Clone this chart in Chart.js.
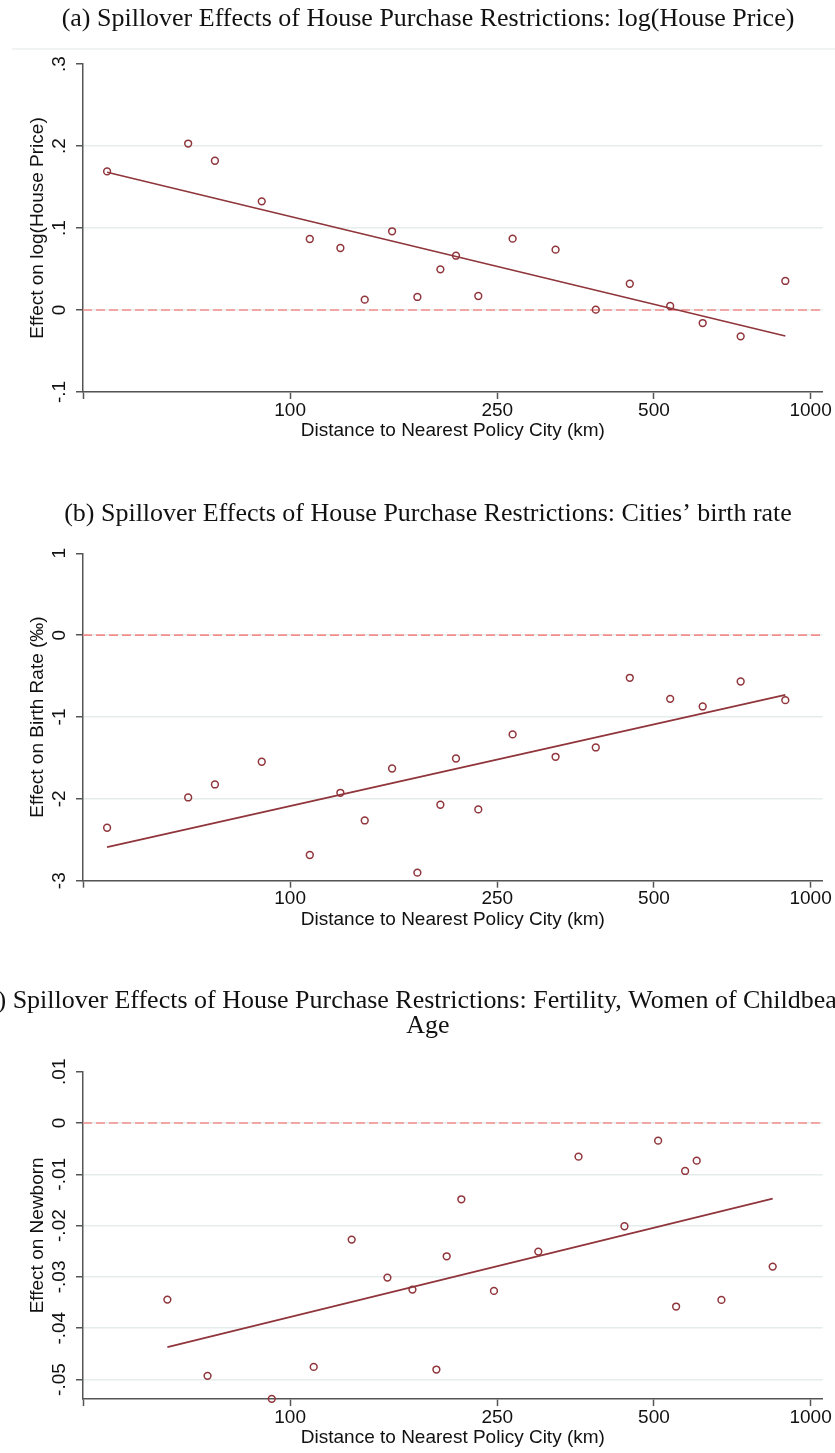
<!DOCTYPE html>
<html>
<head>
<meta charset="utf-8">
<script src="https://cdn.jsdelivr.net/npm/chart.js@4.4.1/dist/chart.umd.min.js"></script>
<style>
    body { margin: 0; background: #fff; width: 835px; height: 1453px; overflow: hidden; position: relative; }
    .panel { position: absolute; left: 0; width: 835px; }
</style>
</head>
<body>
<div class="panel" style="top:0;height:450px"><canvas id="chartA"></canvas></div>
<div class="panel" style="top:480px;height:460px"><canvas id="chartB"></canvas></div>
<div class="panel" style="top:960px;height:493px"><canvas id="chartC"></canvas></div>
<script>
// x axis (log km), shared range
const distRange = [40, 1055];
const distTicks = [40, 100, 250, 500, 1000];
const distTickLabels = ['', '100', '250', '500', '1000'];

// panels (a) and (b): same distance bins
const distAB = [44.5, 63.7, 71.7, 88.2, 109.1, 124.9, 139.1, 157.0, 175.6, 194.4,
                208.3, 229.9, 267.6, 323.6, 386.6, 449.4, 537.3, 620.4, 733.9, 894.2];

const priceEffect = [0.169, 0.203, 0.182, 0.1325, 0.0866, 0.0756, 0.0126, 0.096, 0.0159, 0.0496,
                     0.0662, 0.0171, 0.087, 0.0736, 0.0004, 0.032, 0.0049, -0.0159, -0.0321, 0.0354];
const priceFitX = [44.5, 894.2];
const priceFitY = [0.168, -0.0317];
const priceTicks = [-0.1, 0, 0.1, 0.2, 0.3];
const priceTickLabels = ['-.1', '0', '.1', '.2', '.3'];

const birthEffect = [-2.353, -1.983, -1.824, -1.547, -2.686, -1.926, -2.264, -1.629, -2.902, -2.072,
                     -1.507, -2.129, -1.213, -1.486, -1.372, -0.521, -0.778, -0.871, -0.566, -0.794];
const birthFitX = [44.5, 894.2];
const birthFitY = [-2.589, -0.729];
const birthTicks = [-3, -2, -1, 0, 1];
const birthTickLabels = ['-3', '-2', '-1', '0', '1'];

// panel (c)
const distC = [58.1, 69.4, 92.2, 111.0, 131.3, 153.8, 171.8, 191.0, 199.9, 213.3,
               246.4, 299.8, 358.2, 438.9, 509.4, 551.6, 574.0, 604.2, 674.0, 845.6];
const newbornEffect = [-0.03442, -0.04929, -0.05377, -0.04754, -0.02273, -0.03013, -0.03247, -0.04806, -0.02598, -0.01487,
                       -0.03273, -0.02507, -0.00656, -0.02013, -0.00344, -0.03578, -0.00935, -0.00734, -0.03448, -0.02799];
const newbornFitX = [58.1, 845.6];
const newbornFitY = [-0.0437, -0.01475];
const newbornTicks = [-0.05, -0.04, -0.03, -0.02, -0.01, 0, 0.01];
const newbornTickLabels = ['-.05', '-.04', '-.03', '-.02', '-.01', '0', '.01'];

const zeroY = [0, 0];

const titleA = '(a) Spillover Effects of House Purchase Restrictions: log(House Price)';
const titleB = '(b) Spillover Effects of House Purchase Restrictions: Cities\u2019 birth rate';
const titleC = ['(c) Spillover Effects of House Purchase Restrictions: Fertility, Women of Childbearing', 'Age'];
const xTitle = 'Distance to Nearest Policy City (km)';

const maroon = '#90353b';
const gridColor = '#e5ecec';
const axisColor = '#555555';
const sansFamily = "'Liberation Sans', Arial, sans-serif";

Chart.defaults.font.family = sansFamily;
Chart.defaults.font.size = 19;
Chart.defaults.color = '#111111';
Chart.defaults.animation = false;

function measure(text, font) {
    const c = document.createElement('canvas').getContext('2d');
    c.font = font;
    return c.measureText(text).width;
}

// title font sized so that title (a) spans like the original
const titleSize = 100 * 733 / measure(titleA, "100px 'Liberation Serif'");

const panelTitle = {
    id: 'panelTitle',
    afterDraw(chart, args, o) {
        const c = chart.ctx;
        c.save();
        if (o.rule) {
            c.strokeStyle = '#edf1f1';
            c.lineWidth = 1.5;
            c.beginPath();
            c.moveTo(12, o.rule);
            c.lineTo(chart.width, o.rule);
            c.stroke();
        }
        c.fillStyle = '#111111';
        c.font = `${titleSize}px 'Liberation Serif', serif`;
        c.textAlign = 'center';
        c.textBaseline = 'middle';
        o.lines.forEach((t, i) => c.fillText(t, 428, o.y + i * 25));
        c.restore();
    }
};

const toPoints = (xs, ys) => xs.map((x, i) => ({ x: x, y: ys[i] }));

function makePanel(id, p) {
    const ctx = document.getElementById(id).getContext('2d');
    const widest = Math.max(...p.yLabels.map(t => measure(t, '19px ' + sansFamily)));
    const yMax = p.yRange[1];
    return new Chart(ctx, {
        type: 'scatter',
        data: {
            datasets: [
                {
                    data: toPoints(p.fitX, p.fitY),
                    showLine: true,
                    borderColor: maroon,
                    borderWidth: 1.7,
                    pointRadius: 0
                },
                {
                    data: toPoints(p.x, p.y),
                    borderColor: maroon,
                    backgroundColor: 'rgba(0,0,0,0)',
                    pointRadius: 3.4,
                    pointBorderWidth: 1.5,
                    clip: false
                },
                {
                    data: toPoints(distRange, zeroY),
                    showLine: true,
                    borderColor: '#f48e8c',
                    borderWidth: 1.6,
                    borderDash: [9, 4],
                    pointRadius: 0
                }
            ]
        },
        options: {
            responsive: true,
            maintainAspectRatio: false,
            events: [],
            layout: { padding: { top: p.top, left: 0, right: 12.3, bottom: 0 } },
            plugins: {
                legend: { display: false },
                tooltip: { enabled: false },
                panelTitle: { lines: p.title, y: p.titleY, rule: p.rule }
            },
            scales: {
                x: {
                    type: 'logarithmic',
                    position: 'bottom',
                    min: distRange[0],
                    max: distRange[1],
                    afterBuildTicks: s => { s.ticks = distTicks.map(v => ({ value: v })); },
                    afterFit: s => { s.height = p.xAxisH; s.paddingLeft = 0; s.paddingRight = 0; },
                    ticks: {
                        autoSkip: false,
                        maxRotation: 0,
                        padding: 0,
                        callback: (v, i) => distTickLabels[i]
                    },
                    grid: {
                        drawOnChartArea: false,
                        tickLength: 7,
                        tickColor: axisColor,
                        tickWidth: 1.5
                    },
                    border: { display: true, color: axisColor, width: 1.5 },
                    title: {
                        display: true,
                        text: xTitle,
                        padding: { top: 0, bottom: p.xAxisH - 39 - 11.4 }
                    }
                },
                y: {
                    min: p.yRange[0],
                    max: yMax,
                    afterBuildTicks: s => { s.ticks = p.yTicks.map(v => ({ value: v })); },
                    afterFit: s => { s.width = 83; s.paddingTop = 0; s.paddingBottom = 0; },
                    ticks: {
                        minRotation: 90,
                        maxRotation: 90,
                        crossAlign: 'center',
                        padding: 16 - widest / 2,
                        callback: (v, i) => p.yLabels[i]
                    },
                    grid: {
                        color: c => (c.tick && c.tick.value >= yMax - 1e-9) ? 'rgba(0,0,0,0)' : gridColor,
                        lineWidth: 1.5,
                        tickLength: 7,
                        tickColor: axisColor,
                        tickWidth: 1.5
                    },
                    border: { display: true, color: axisColor, width: 1.5 },
                    title: {
                        display: true,
                        text: p.yTitle,
                        padding: { top: 26.6, bottom: 0 }
                    }
                }
            }
        },
        plugins: [panelTitle]
    });
}

makePanel('chartA', {
    title: [titleA], titleY: 19, rule: 49, top: 64, xAxisH: 58,
    x: distAB, y: priceEffect, fitX: priceFitX, fitY: priceFitY,
    yRange: [-0.1, 0.3], yTicks: priceTicks, yLabels: priceTickLabels,
    yTitle: 'Effect on log(House Price)'
});

makePanel('chartB', {
    title: [titleB], titleY: 34, rule: 0, top: 73.3, xAxisH: 59.3,
    x: distAB, y: birthEffect, fitX: birthFitX, fitY: birthFitY,
    yRange: [-3, 1], yTicks: birthTicks, yLabels: birthTickLabels,
    yTitle: 'Effect on Birth Rate (\u2030)'
});

makePanel('chartC', {
    title: titleC, titleY: 41, rule: 0, top: 111.7, xAxisH: 54,
    x: distC, y: newbornEffect, fitX: newbornFitX, fitY: newbornFitY,
    yRange: [-0.0538, 0.01], yTicks: newbornTicks, yLabels: newbornTickLabels,
    yTitle: 'Effect on Newborn'
});
</script>
</body>
</html>
